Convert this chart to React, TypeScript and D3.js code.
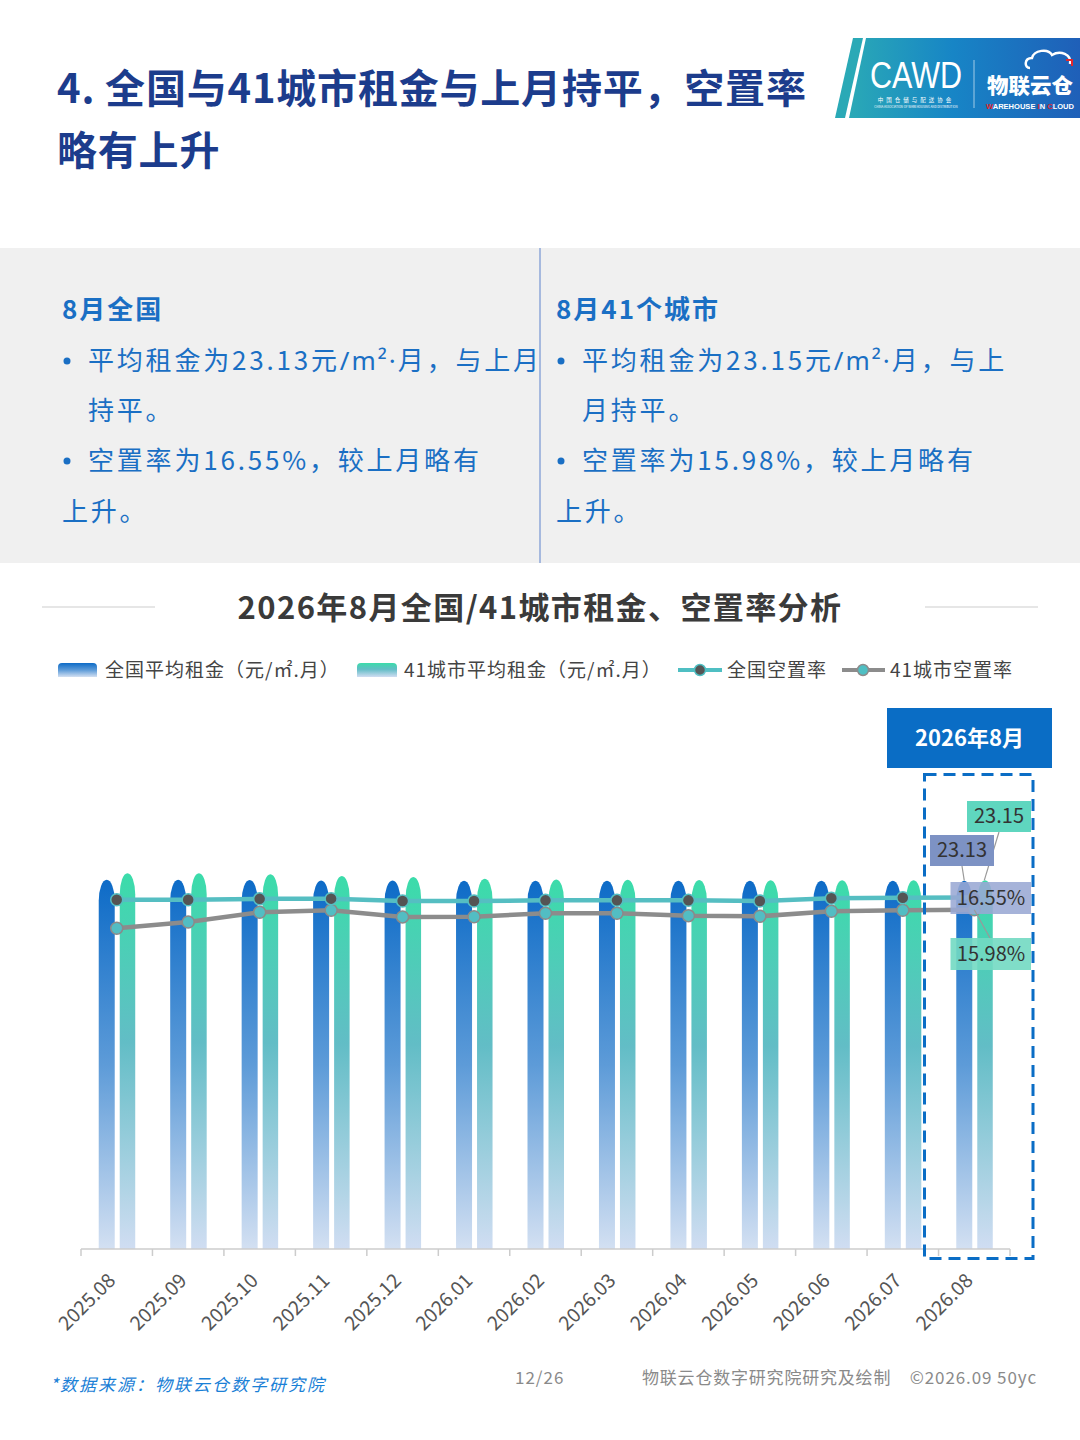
import React from "react";
import * as d3 from "d3";

const months = ["2025.08","2025.09","2025.10","2025.11","2025.12","2026.01","2026.02","2026.03","2026.04","2026.05","2026.06","2026.07","2026.08"];
const rentNational = [23.18,23.18,23.17,23.14,23.14,23.13,23.13,23.13,23.13,23.12,23.13,23.13,23.13];
const rent41 = [23.59,23.59,23.53,23.42,23.36,23.25,23.21,23.18,23.17,23.15,23.15,23.15,23.15];
const vacNational = [16.45,16.45,16.49,16.50,16.39,16.39,16.42,16.42,16.42,16.39,16.52,16.54,16.55];
const vac41 = [15.11,15.40,15.86,15.95,15.64,15.65,15.81,15.81,15.70,15.67,15.91,15.95,15.98];
const legendLabels = ["全国平均租金（元/㎡.月）","41城市平均租金（元/㎡.月）","全国空置率","41城市空置率"];
const rentMax = 40;
const vacMax = 30;

const FONT = "'Noto Sans CJK SC','Noto Sans',sans-serif";
const LAT = "'Noto Sans',sans-serif";

export default function App() {
  const W = 1080, H = 1440;
  const baseY = 1249, plotH = 637;
  const x = d3.scaleBand<string>().domain(months).range([81, 1010]).padding(0);
  const yR = d3.scaleLinear().domain([0, rentMax]).range([baseY, baseY - plotH]);
  const yV = d3.scaleLinear().domain([0, vacMax]).range([baseY, baseY - plotH]);
  const bw = x.bandwidth();
  const cx = (m: string) => (x(m) as number) + bw / 2;
  const barW = 15.5;
  const cap = 21;
  const barPath = (x0: number, w: number, top: number) =>
    `M${x0},${baseY}V${top + cap}A${w / 2},${cap} 0 0 1 ${x0 + w},${top + cap}V${baseY}Z`;
  const lineNat = d3.line<number>().x((_, i) => cx(months[i])).y((v) => yV(v))(vacNational) as string;
  const line41 = d3.line<number>().x((_, i) => cx(months[i])).y((v) => yV(v))(vac41) as string;
  const last = months.length - 1;
  const lm = months[last];
  const lcx = cx(lm);
  const ticks = d3.range(months.length + 1).map((i) => 81 + i * bw);

  const panelTextColor = "#1a6fc4";
  const panelFs = 26;
  const unit = (v: string) => (
    <>
      {v}元<tspan fontFamily={LAT} letterSpacing={2}>/m²·</tspan>月
    </>
  );

  return (
    <svg width={W} height={H} style={{ position: "absolute", left: 0, top: 0, display: "block", background: "#fff" }} fontFamily={FONT}>
      <defs>
        <linearGradient id="gBlue" x1="0" y1="0" x2="0" y2="1">
          <stop offset="0" stopColor="#0d6bc7" />
          <stop offset="0.5" stopColor="#5d9bd8" />
          <stop offset="1" stopColor="#d3e0f2" />
        </linearGradient>
        <linearGradient id="gGreen" x1="0" y1="0" x2="0" y2="1">
          <stop offset="0" stopColor="#3bdcaa" />
          <stop offset="0.45" stopColor="#62bdc6" />
          <stop offset="1" stopColor="#d0ddf2" />
        </linearGradient>
        <linearGradient id="gLogo" x1="0" y1="0" x2="1" y2="0">
          <stop offset="0" stopColor="#2aa9b6" />
          <stop offset="0.45" stopColor="#1785c6" />
          <stop offset="1" stopColor="#1f5fb8" />
        </linearGradient>
      </defs>
      <rect x={0} y={0} width={W} height={H} fill="#fff" />

      {/* Header title */}
      <text x={57} y={103} fontSize={40} fontWeight={700} fill="#1c3c8c" letterSpacing={0.8}>4. 全国与41城市租金与上月持平，空置率</text>
      <text x={57} y={165} fontSize={40} fontWeight={700} fill="#1c3c8c" letterSpacing={0.8}>略有上升</text>

      {/* Logo */}
      <g>
        <polygon points="853,38 863,38 845,118 835,118" fill="#2aa9b6" />
        <polygon points="866,38 1080,38 1080,118 849,118" fill="url(#gLogo)" />
        <text x={916} y={88} fontSize={37} fill="#fff" textAnchor="middle" fontFamily="'Liberation Sans',sans-serif" fontWeight={300} textLength={92} lengthAdjust="spacingAndGlyphs">CAWD</text>
        <text x={916} y={102} fontSize={5.5} fill="#fff" textAnchor="middle" letterSpacing={3}>中国仓储与配送协会</text>
        <text x={916} y={108} fontSize={3} fill="#fff" textAnchor="middle">CHINA ASSOCIATION OF WAREHOUSING AND DISTRIBUTION</text>
        <line x1={974} y1={60} x2={974} y2={108} stroke="#fff" strokeOpacity={0.6} strokeWidth={1} />
        <path d="M1030,68 C1024,68 1024,58 1032,58 C1034,50 1048,48 1052,55 C1060,50 1072,54 1070,64" fill="none" stroke="#fff" strokeWidth={2.5} />
        <path d="M1066,60 h6 v6" fill="none" stroke="#e5262b" strokeWidth={2} />
        <text x={987} y={93} fontSize={21} fontWeight={900} fill="#fff" textLength={86} lengthAdjust="spacingAndGlyphs">物联云仓</text>
        <text x={986} y={109} fontSize={8} fontWeight={700} fill="#fff" fontFamily="'Liberation Sans',sans-serif" textLength={88} lengthAdjust="spacingAndGlyphs">
          <tspan fill="#e5262b">W</tspan>AREHOUSE <tspan fill="#e5262b">I</tspan>N <tspan fill="#e5262b">C</tspan>LOUD
        </text>
      </g>

      {/* Summary panel */}
      <rect x={0} y={248} width={W} height={315} fill="#f0f0f0" />
      <line x1={540} y1={248} x2={540} y2={563} stroke="#8ea7d9" strokeWidth={1.5} />
      <g fill={panelTextColor} fontSize={panelFs} letterSpacing={2.8}>
        <text x={62} y={319} fontWeight={700} letterSpacing={2}>8月全国</text>
        <circle cx={67} cy={361} r={3.5} />
        <text x={88} y={370}>平均租金为{unit("23.13")}，与上月</text>
        <text x={88} y={420}>持平。</text>
        <circle cx={67} cy={461} r={3.5} />
        <text x={88} y={470}>空置率为16.55%，较上月略有</text>
        <text x={62} y={521}>上升。</text>

        <text x={556} y={319} fontWeight={700} letterSpacing={2}>8月41个城市</text>
        <circle cx={561} cy={361} r={3.5} />
        <text x={582} y={370}>平均租金为{unit("23.15")}，与上</text>
        <text x={582} y={420}>月持平。</text>
        <circle cx={561} cy={461} r={3.5} />
        <text x={582} y={470}>空置率为15.98%，较上月略有</text>
        <text x={556} y={521}>上升。</text>
      </g>

      {/* Chart title */}
      <line x1={42} y1={607} x2={155} y2={607} stroke="#e6e6e6" strokeWidth={2} />
      <line x1={925} y1={607} x2={1038} y2={607} stroke="#e6e6e6" strokeWidth={2} />
      <text x={540} y={619} textAnchor="middle" fontSize={31} fontWeight={700} fill="#3a3a3a" letterSpacing={1.4}>2026年8月全国/41城市租金、空置率分析</text>

      {/* Legend */}
      <g fontSize={19} fill="#444" letterSpacing={1}>
        <path d="M58,677 V667 Q58,663 62,663 H93 Q97,663 97,667 V677 Z" fill="url(#gBlue)" />
        <text x={105} y={677}>{legendLabels[0]}</text>
        <path d="M357,677 V667 Q357,663 361,663 H393 Q397,663 397,667 V677 Z" fill="url(#gGreen)" />
        <text x={404} y={677}>{legendLabels[1]}</text>
        <line x1={678} y1={670} x2={722} y2={670} stroke="#4fbfc3" strokeWidth={4} />
        <circle cx={700} cy={670} r={5.5} fill="#555" stroke="#4fbfc3" strokeWidth={1.5} />
        <text x={727} y={677}>{legendLabels[2]}</text>
        <line x1={842} y1={670} x2={885} y2={670} stroke="#8c8c8c" strokeWidth={4} />
        <circle cx={863} cy={670} r={5.5} fill="#4fbfc3" stroke="#8c8c8c" strokeWidth={1.5} />
        <text x={890} y={677}>{legendLabels[3]}</text>
      </g>

      {/* Bars */}
      <g>
        {months.map((m, i) => (
          <g key={m}>
            <path d={barPath(cx(m) - 18, barW + 0.5, yR(rentNational[i]))} fill="url(#gBlue)" />
            <path d={barPath(cx(m) + 3, barW, yR(rent41[i]))} fill="url(#gGreen)" />
          </g>
        ))}
      </g>

      {/* Lines */}
      <path d={line41} fill="none" stroke="#8c8c8c" strokeWidth={4.5} />
      <path d={lineNat} fill="none" stroke="#55bec2" strokeWidth={4.5} />
      {months.map((m, i) => (
        <circle key={"v41" + m} cx={cx(m)} cy={yV(vac41[i])} r={6} fill="#52bdc3" stroke="#8a8a8a" strokeWidth={1.5} />
      ))}
      {months.map((m, i) => (
        <circle key={"vn" + m} cx={cx(m)} cy={yV(vacNational[i])} r={6} fill="#545454" stroke="#55bec2" strokeWidth={1.5} />
      ))}

      {/* X axis */}
      <line x1={81} y1={baseY} x2={1010} y2={baseY} stroke="#cccccc" strokeWidth={1.5} />
      {ticks.map((t, i) => (
        <line key={"t" + i} x1={t} y1={baseY} x2={t} y2={baseY + 7} stroke="#cccccc" strokeWidth={1.5} />
      ))}
      {months.map((m) => (
        <text key={"l" + m} transform={`translate(${cx(m) - 5},${baseY + 28}) rotate(-45)`} textAnchor="end" dy="0.35em" fontSize={19.5} fill="#555">{m}</text>
      ))}

      {/* Highlight for last month */}
      <rect x={887} y={708} width={165} height={60} fill="#0a6dc5" />
      <text x={969.5} y={746} textAnchor="middle" fontSize={22} fontWeight={700} fill="#fff">2026年8月</text>
      <rect x={924.5} y={774.5} width={108.5} height={484} fill="none" stroke="#0a6dc5" strokeWidth={3} strokeDasharray="12,7" />

      {/* Labels for last month */}
      <g fontSize={20} fill="#333" textAnchor="middle">
        <line x1={962} y1={866} x2={lcx - 10} y2={yR(rentNational[last])} stroke="#999" strokeWidth={1.2} />
        <line x1={999} y1={832} x2={lcx + 10} y2={yR(rent41[last])} stroke="#999" strokeWidth={1.2} />
        <rect x={967} y={801} width={64} height={31} fill="#5fd6bf" />
        <text x={999} y={823}>{rent41[last].toFixed(2)}</text>
        <rect x={930} y={835} width={64} height={31} fill="#7d92c4" />
        <text x={962} y={857}>{rentNational[last].toFixed(2)}</text>
        <rect x={950.5} y={882} width={80.5} height={32} fill="#9aa9d4" fillOpacity={0.88} />
        <text x={991} y={905}>{vacNational[last].toFixed(2)}%</text>
        <line x1={990} y1={938} x2={lcx} y2={yV(vac41[last])} stroke="#999" strokeWidth={1.2} />
        <rect x={950.5} y={938} width={80.5} height={32} fill="#72d9c2" fillOpacity={0.9} />
        <text x={991} y={961}>{vac41[last].toFixed(2)}%</text>
      </g>

      {/* Footer */}
      <text x={50} y={1391} fontSize={17} fill="#1a80d6" fontStyle="italic" letterSpacing={2}>*数据来源：物联云仓数字研究院</text>
      <text x={515} y={1384} fontSize={17} fill="#8a8a8a" letterSpacing={1}>12/26</text>
      <text x={642} y={1384} fontSize={17} fill="#8a8a8a" letterSpacing={0.8}>物联云仓数字研究院研究及绘制</text>
      <text x={1037} y={1384} fontSize={17} fill="#8a8a8a" textAnchor="end" letterSpacing={0.9}>©2026.09 50yc</text>
    </svg>
  );
}
